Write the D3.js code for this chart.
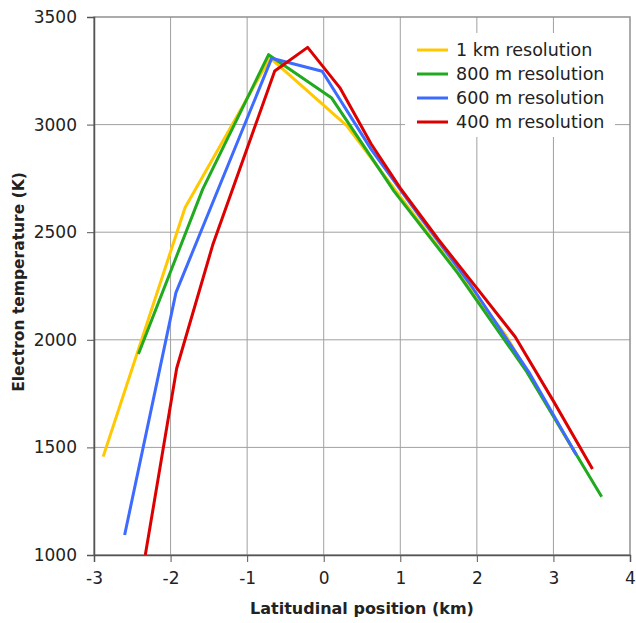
<!DOCTYPE html>
<html>
<head>
<meta charset="utf-8">
<script src="https://cdn.jsdelivr.net/npm/d3@7"></script>
<style>
  body { margin: 0; background: #fff; }
  text { font-family: "DejaVu Sans", Verdana, sans-serif; }
</style>
</head>
<body>
<div id="chart"></div>
<script>
// series names and colours
var seriesNames = ["1 km resolution", "800 m resolution", "600 m resolution", "400 m resolution"];
var seriesColors = ["#FFC800", "#1FAA1F", "#3D6BFF", "#DD0000"];

// values: [position km, temperature K]
var res1km = [[-2.88, 1457], [-1.81, 2615], [-0.70, 3310], [0.30, 2995], [1.33, 2510], [2.38, 2020], [3.28, 1475]];
var res800m = [[-2.42, 1934], [-1.58, 2700], [-0.72, 3325], [0.10, 3125], [0.92, 2690], [1.75, 2310], [2.65, 1852], [3.63, 1271]];
var res600m = [[-2.60, 1093], [-1.93, 2219], [-0.68, 3308], [-0.02, 3248], [0.62, 2885], [1.25, 2575], [1.90, 2265], [2.69, 1844], [3.30, 1465]];
var res400m = [[-2.33, 1000], [-1.92, 1868], [-1.45, 2440], [-0.64, 3249], [-0.21, 3359], [0.21, 3172], [0.62, 2910], [1.00, 2705], [1.50, 2465], [2.00, 2240], [2.50, 2014], [3.00, 1715], [3.51, 1400]];
var allSeries = [res1km, res800m, res600m, res400m];

// tick labels
var xTicks = [-3, -2, -1, 0, 1, 2, 3, 4];
var yTicks = [1000, 1500, 2000, 2500, 3000, 3500];

var width = 636, height = 623;
var margin = {top: 17, right: 6, bottom: 68, left: 94};
var plotW = width - margin.left - margin.right;
var plotH = height - margin.top - margin.bottom;

var svg = d3.select("#chart").append("svg")
    .attr("width", width)
    .attr("height", height);

var g = svg.append("g")
    .attr("transform", "translate(" + margin.left + "," + margin.top + ")");

var x = d3.scaleLinear().domain([-3, 4]).range([0, plotW]);
var y = d3.scaleLinear().domain([1000, 3500]).range([plotH, 0]);

// gridlines
g.append("g").selectAll("line").data(xTicks.slice(1, -1)).enter().append("line")
    .attr("x1", function(d) { return x(d); }).attr("x2", function(d) { return x(d); })
    .attr("y1", 0).attr("y2", plotH)
    .attr("stroke", "#a0a0a0").attr("stroke-width", 1);
g.append("g").selectAll("line").data(yTicks.slice(1, -1)).enter().append("line")
    .attr("y1", function(d) { return y(d); }).attr("y2", function(d) { return y(d); })
    .attr("x1", 0).attr("x2", plotW)
    .attr("stroke", "#a0a0a0").attr("stroke-width", 1);

// frame
g.append("rect")
    .attr("width", plotW).attr("height", plotH)
    .attr("fill", "none").attr("stroke", "#909090").attr("stroke-width", 1.5);

// axes (plain hyphen for negatives, no thousands separator)
var fmt = function(d) { return String(d); };
var xAxis = g.append("g")
    .attr("transform", "translate(0," + plotH + ")")
    .call(d3.axisBottom(x).tickValues(xTicks).tickFormat(fmt).tickSize(7).tickPadding(10));
var yAxis = g.append("g")
    .call(d3.axisLeft(y).tickValues(yTicks).tickFormat(fmt).tickSize(7).tickPadding(10));
[xAxis, yAxis].forEach(function(a) {
    a.select(".domain").attr("stroke", "#555").attr("stroke-width", 1.5);
    a.selectAll(".tick line").attr("stroke", "#555");
    a.selectAll(".tick text")
        .attr("fill", "#222")
        .style("font-size", "17px")
        .style("font-family", "'DejaVu Sans', Verdana, sans-serif");
});

// lines
var clipId = "plotClip";
g.append("clipPath").attr("id", clipId).append("rect")
    .attr("width", plotW).attr("height", plotH);

var line = d3.line()
    .x(function(d) { return x(d[0]); })
    .y(function(d) { return y(d[1]); });

g.append("g").attr("clip-path", "url(#" + clipId + ")")
    .selectAll("path").data(allSeries).enter().append("path")
    .attr("d", line)
    .attr("fill", "none")
    .attr("stroke", function(d, i) { return seriesColors[i]; })
    .attr("stroke-width", 3)
    .attr("stroke-linejoin", "round");

// legend, white box over the grid
var lgX = 311, lgY = 16;
var lg = g.append("g");
lg.append("rect")
    .attr("x", lgX).attr("y", lgY)
    .attr("width", 210).attr("height", 104)
    .attr("fill", "#fff");
var items = lg.selectAll(".item").data(seriesNames).enter().append("g")
    .attr("transform", function(d, i) { return "translate(" + (lgX + 12) + "," + (lgY + 17 + i * 24) + ")"; });
items.append("line")
    .attr("x1", 0).attr("x2", 31).attr("y1", 0).attr("y2", 0)
    .attr("stroke", function(d, i) { return seriesColors[i]; })
    .attr("stroke-width", 3);
items.append("text")
    .attr("x", 39).attr("y", 0).attr("dy", "0.36em")
    .attr("fill", "#222")
    .style("font-size", "17.5px")
    .text(function(d) { return d; });

// axis titles
svg.append("text")
    .attr("x", margin.left + plotW / 2).attr("y", 614)
    .attr("text-anchor", "middle")
    .attr("fill", "#222")
    .style("font-size", "16px").style("font-weight", "bold")
    .text("Latitudinal position (km)");
svg.append("text")
    .attr("transform", "translate(24,282) rotate(-90)")
    .attr("text-anchor", "middle")
    .attr("fill", "#222")
    .style("font-size", "15.5px").style("font-weight", "bold")
    .text("Electron temperature (K)");
</script>
</body>
</html>
